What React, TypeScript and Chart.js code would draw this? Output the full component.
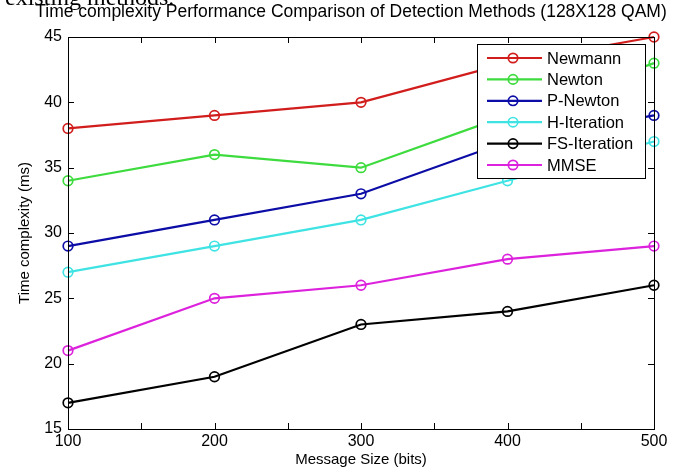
import React, { useEffect, useRef } from 'react';
import { Chart, registerables } from 'chart.js';

Chart.register(...registerables);

// ---- data ----
const messageSizes = [100, 200, 300, 400, 500];
const newmann = [38, 39, 40, 43, 45];
const newton = [34, 36, 35, 39, 43];
const pNewton = [29, 31, 33, 37, 39];
const hIteration = [27, 29, 31, 34, 37];
const fsIteration = [17, 19, 23, 24, 26];
const mmse = [21, 25, 26, 28, 29];
const seriesNames = ['Newmann', 'Newton', 'P-Newton', 'H-Iteration', 'FS-Iteration', 'MMSE'];
const seriesValues = [newmann, newton, pNewton, hIteration, fsIteration, mmse];
const seriesColors = ['#d21d1d', '#3ddb3d', '#0c0ca6', '#3fe3e3', '#000000', '#dc22dc'];
const xTickLabels = [100, 200, 300, 400, 500];
const yTickLabels = [15, 20, 25, 30, 35, 40, 45];

const chartTitle = 'Time complexity Performance Comparison of Detection Methods (128X128 QAM)';
const xTitle = 'Message Size (bits)';
const yTitle = 'Time complexity (ms)';
const FONT = "'Liberation Sans', Arial, sans-serif";

const framePlugin = {
  id: 'matlabFrame',
  afterDatasetsDraw(chart: any) {
    const { ctx, chartArea } = chart;
    const { left, right, top, bottom } = chartArea;
    const xs = chart.scales.x;
    const ys = chart.scales.y;
    const tl = 6;
    ctx.save();
    ctx.strokeStyle = '#000';
    ctx.lineWidth = 1;
    ctx.strokeRect(Math.round(left) + 0.5, Math.round(top) + 0.5, Math.round(right - left), Math.round(bottom - top));
    ctx.beginPath();
    xs.ticks.forEach((t: any) => {
      const px = Math.round(xs.getPixelForValue(t.value)) + 0.5;
      ctx.moveTo(px, bottom);
      ctx.lineTo(px, bottom - tl);
      ctx.moveTo(px, top);
      ctx.lineTo(px, top + tl);
    });
    ys.ticks.forEach((t: any) => {
      const py = Math.round(ys.getPixelForValue(t.value)) + 0.5;
      ctx.moveTo(left, py);
      ctx.lineTo(left + tl, py);
      ctx.moveTo(right, py);
      ctx.lineTo(right - tl, py);
    });
    ctx.stroke();
    ctx.restore();
  },
  afterDraw(chart: any) {
    const { ctx, chartArea } = chart;
    ctx.save();
    // title
    ctx.fillStyle = '#000';
    ctx.font = `17.5px ${FONT}`;
    ctx.textAlign = 'center';
    ctx.textBaseline = 'middle';
    ctx.fillText(chartTitle, 351, 12);

    // legend box
    const boxW = 168;
    const boxH = 134;
    const boxL = Math.round(chartArea.right - 9 - boxW);
    const boxT = Math.round(chartArea.top + 7);
    ctx.fillStyle = '#fff';
    ctx.fillRect(boxL, boxT, boxW, boxH);
    ctx.strokeStyle = '#000';
    ctx.lineWidth = 1;
    ctx.strokeRect(boxL + 0.5, boxT + 0.5, boxW, boxH);
    const rowH = 21.4;
    chart.data.datasets.forEach((ds: any, i: number) => {
      const y = boxT + 14 + i * rowH;
      ctx.strokeStyle = ds.borderColor;
      ctx.lineWidth = 2.2;
      ctx.beginPath();
      ctx.moveTo(boxL + 10, y);
      ctx.lineTo(boxL + 65, y);
      ctx.stroke();
      ctx.lineWidth = 1.7;
      ctx.beginPath();
      ctx.arc(boxL + 36, y, 4.7, 0, Math.PI * 2);
      ctx.stroke();
      ctx.fillStyle = '#000';
      ctx.font = `16.5px ${FONT}`;
      ctx.textAlign = 'left';
      ctx.textBaseline = 'middle';
      ctx.fillText(ds.label, boxL + 70, y + 1);
    });
    ctx.restore();
  },
};

export default function App() {
  const ref = useRef<HTMLCanvasElement | null>(null);

  useEffect(() => {
    if (!ref.current) return;
    const datasets = seriesNames.map((name, i) => ({
      label: name,
      data: messageSizes.map((x, j) => ({ x, y: seriesValues[i][j] })),
      borderColor: seriesColors[i],
      backgroundColor: 'rgba(0,0,0,0)',
      borderWidth: 2.2,
      pointRadius: 4.8,
      pointBorderWidth: 1.7,
      pointBackgroundColor: 'rgba(0,0,0,0)',
      pointBorderColor: seriesColors[i],
      tension: 0,
      clip: false as any,
    }));
    const chart = new Chart(ref.current, {
      type: 'line',
      data: { datasets },
      plugins: [framePlugin],
      options: {
        responsive: false,
        animation: false,
        layout: { padding: { left: 0, right: 21, top: 37, bottom: 0 } },
        plugins: {
          legend: { display: false },
          title: { display: false },
          tooltip: { enabled: false },
        },
        scales: {
          x: {
            type: 'linear',
            min: xTickLabels[0],
            max: xTickLabels[xTickLabels.length - 1],
            grid: { display: false, drawTicks: false },
            border: { display: false },
            ticks: {
              stepSize: 50,
              padding: 3,
              color: '#000',
              font: { family: FONT, size: 16 },
              maxRotation: 0,
              autoSkip: false,
              callback: (v: any) => (xTickLabels.includes(Number(v)) ? String(v) : ''),
            },
            title: {
              display: true,
              text: xTitle,
              color: '#000',
              font: { family: FONT, size: 15 },
              padding: { top: 0, bottom: 2 },
            },
            afterFit: (s: any) => {
              s.height = 42;
            },
          },
          y: {
            type: 'linear',
            min: yTickLabels[0],
            max: yTickLabels[yTickLabels.length - 1],
            grid: { display: false, drawTicks: false },
            border: { display: false },
            ticks: {
              stepSize: 5,
              padding: 6,
              color: '#000',
              font: { family: FONT, size: 16 },
            },
            title: {
              display: true,
              text: yTitle,
              color: '#000',
              font: { family: FONT, size: 15 },
              padding: { top: 16, bottom: 0 },
            },
            afterFit: (s: any) => {
              s.width = 68;
            },
          },
        },
      },
    });
    return () => chart.destroy();
  }, []);

  return (
    <div style={{ position: 'absolute', left: 0, top: 0, width: 675, height: 471, overflow: 'hidden', background: '#fff' }}>
      <canvas ref={ref} width={675} height={471} style={{ position: 'absolute', left: 0, top: 0 }} />
      <div
        style={{
          position: 'absolute',
          left: 5,
          top: -15,
          fontFamily: "'Liberation Serif', 'Times New Roman', serif",
          fontSize: 24,
          lineHeight: '24px',
          color: '#000',
          whiteSpace: 'nowrap',
        }}
      >
        existing methods.
      </div>
    </div>
  );
}
